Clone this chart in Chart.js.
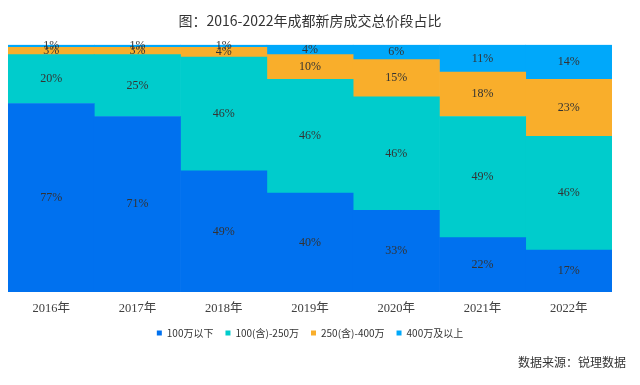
<!DOCTYPE html>
<html>
<head>
<meta charset="utf-8">
<script src="https://cdn.jsdelivr.net/npm/chart.js@4.4.1/dist/chart.umd.min.js"></script>
<style>
  body { margin: 0; background: #fff; }
  #wrap { width: 640px; height: 385px; }
</style>
</head>
<body>
<div id="wrap"><canvas id="myChart"></canvas></div>
<script>
// datos
const anios = ["2016年", "2017年", "2018年", "2019年", "2020年", "2021年", "2022年"];
const menos100 = [77, 71, 49, 40, 33, 22, 17];
const de100a250 = [20, 25, 46, 46, 46, 49, 46];
const de250a400 = [3, 3, 4, 10, 15, 18, 23];
const mas400 = [1, 1, 1, 4, 6, 11, 14];
const series = ["100万以下", "100(含)-250万", "250(含)-400万", "400万及以上"];
const colores = ["#0071ef", "#00cccc", "#f9ae2b", "#00a8fa"];
const fuente = "数据来源：锐理数据";

const valores = [menos100, de100a250, de250a400, mas400];

// cada columna se lleva a 100%
const totales = anios.map((a, i) => valores.reduce((s, v) => s + v[i], 0));

const datasets = valores.map((v, k) => {
    return {
        label: series[k],
        data: v.map((x, i) => x / totales[i] * 100),
        originales: v,
        backgroundColor: colores[k],
        borderWidth: 0,
        categoryPercentage: 1,
        barPercentage: 1
    };
});

// etiquetas de porcentaje en el centro de cada bloque
const etiquetasPlugin = {
    id: "etiquetas",
    afterDatasetsDraw(chart) {
        const ctx = chart.ctx;
        ctx.save();
        ctx.font = "12px 'Liberation Serif', serif";
        ctx.fillStyle = "#333";
        ctx.textAlign = "center";
        ctx.textBaseline = "middle";
        chart.data.datasets.forEach((ds, k) => {
            const meta = chart.getDatasetMeta(k);
            meta.data.forEach((el, i) => {
                const p = el.getProps(["x", "y", "base"], true);
                ctx.fillText(ds.originales[i] + "%", p.x, (p.y + p.base) / 2);
            });
        });
        ctx.restore();
    }
};

// fuente abajo a la derecha
const fuentePlugin = {
    id: "fuente",
    afterDraw(chart) {
        const ctx = chart.ctx;
        ctx.save();
        ctx.font = "12px 'Noto Sans CJK SC'";
        ctx.fillStyle = "#333";
        ctx.textAlign = "right";
        ctx.textBaseline = "middle";
        ctx.fillText(fuente, chart.width - 14, 362);
        ctx.restore();
    }
};

const grafica = document.getElementById("myChart").getContext("2d");
const myChart = new Chart(grafica, {
    type: "bar",
    data: {
        labels: anios,
        datasets: datasets
    },
    options: {
        responsive: true,
        maintainAspectRatio: false,
        animation: false,
        layout: {
            padding: { left: 8, right: 28, top: 0, bottom: 37 }
        },
        scales: {
            x: {
                stacked: true,
                grid: { display: false, drawTicks: false },
                border: { display: false },
                ticks: {
                    padding: 9,
                    color: "#404040",
                    font: { family: "'Liberation Serif', 'Noto Sans CJK SC'", size: 12.5 }
                },
                afterFit(scale) {
                    scale.height = 24;
                }
            },
            y: {
                stacked: true,
                display: false,
                min: 0,
                max: 100
            }
        },
        plugins: {
            title: {
                display: true,
                text: "图：2016-2022年成都新房成交总价段占比",
                color: "#333",
                font: { family: "'Noto Sans CJK SC'", size: 14, weight: "normal" },
                padding: { top: 12, bottom: 16 }
            },
            legend: {
                position: "bottom",
                labels: {
                    boxWidth: 5,
                    boxHeight: 5,
                    padding: 12,
                    color: "#333",
                    font: { family: "'Noto Sans CJK SC'", size: 10 }
                }
            },
            tooltip: { enabled: false }
        }
    },
    plugins: [etiquetasPlugin, fuentePlugin]
});
</script>
</body>
</html>
